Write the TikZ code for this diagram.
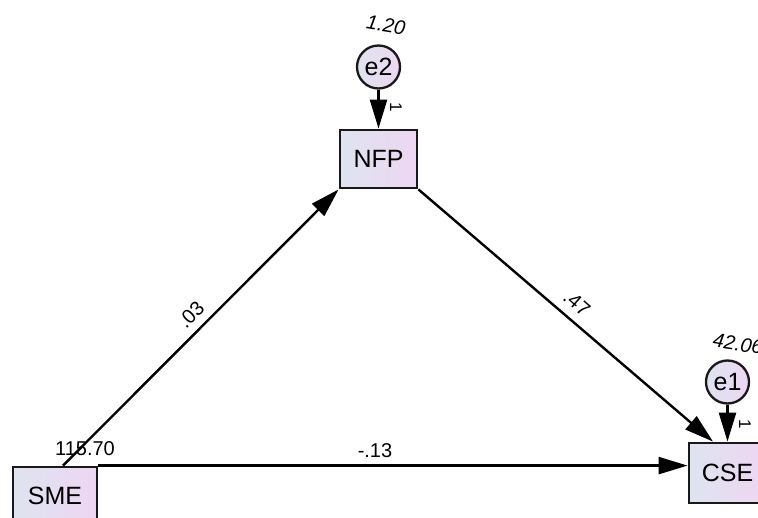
\documentclass[tikz,border=0pt]{standalone}
\usepackage{fontspec}
\setmainfont{Liberation Sans}
\usetikzlibrary{arrows.meta,calc}
\definecolor{gradL}{RGB}{222,228,240}
\definecolor{gradR}{RGB}{238,214,242}
\definecolor{edgec}{RGB}{25,25,25}
\tikzset{
  varbox/.style={draw=edgec, line width=2.8pt, left color=gradL, right color=gradR,
    minimum width=77pt, minimum height=58pt, inner sep=0pt,
    font=\fontsize{25}{30}\selectfont},
  errc/.style={circle, draw=edgec, line width=2.3pt, left color=gradL, right color=gradR,
    minimum size=43pt, inner sep=0pt, font=\fontsize{25}{30}\selectfont},
  arr/.style={line width=2.4pt, draw=black, -{Triangle[length=29pt,width=17pt]}},
  lbl/.style={inner sep=0pt, font=\fontsize{20}{24}\selectfont},
  varlbl/.style={inner sep=0pt, font=\fontsize{20}{24}\selectfont\itshape},
  onelbl/.style={inner sep=0pt, font=\fontsize{17}{20}\selectfont, rotate=-90}
}
\begin{document}
\begin{tikzpicture}[x=1pt,y=-1pt]
\useasboundingbox (0,0) rectangle (758,518);
\clip (0,0) rectangle (758,518);
% variables
\node[varbox] (NFP) at (378.5,159) {NFP};
\node[varbox, minimum width=84pt] (SME) at (55,496) {SME};
\node[varbox, minimum height=60pt] (CSE) at (727.5,473) {CSE};
\node[errc] (e2) at (378.5,67) {e2};
\node[errc] (e1) at (727.5,382) {e1};
% paths
\draw[arr] (e2.south) -- (e2.south |- NFP.north);
\draw[arr] (e1.south) -- (e1.south |- CSE.north);
\draw[arr] ([xshift=8pt]SME.north) -- (NFP.south west);
\draw[arr] (SME.north east) -- (SME.north east -| CSE.west);
\draw[arr] (NFP.south east) -- ([xshift=-14.5pt]CSE.north);
% labels
\node[varlbl, rotate=-9] (v2) at (386,25) {1.20};
\node[varlbl, rotate=-9, anchor=west] (v1) at (713,340) {42.06};
\node[lbl] (v3) at (85,449) {115.70};
\node[lbl, rotate=45] (w1) at (191,315) {.03};
\node[lbl, rotate=-40.7] (w2) at (577,303) {.47};
\node[lbl] (w3) at (375,451) {-.13};
\node[onelbl] (f2) at (396,107) {1};
\node[onelbl] (f1) at (745,424) {1};
\end{tikzpicture}
\end{document}
